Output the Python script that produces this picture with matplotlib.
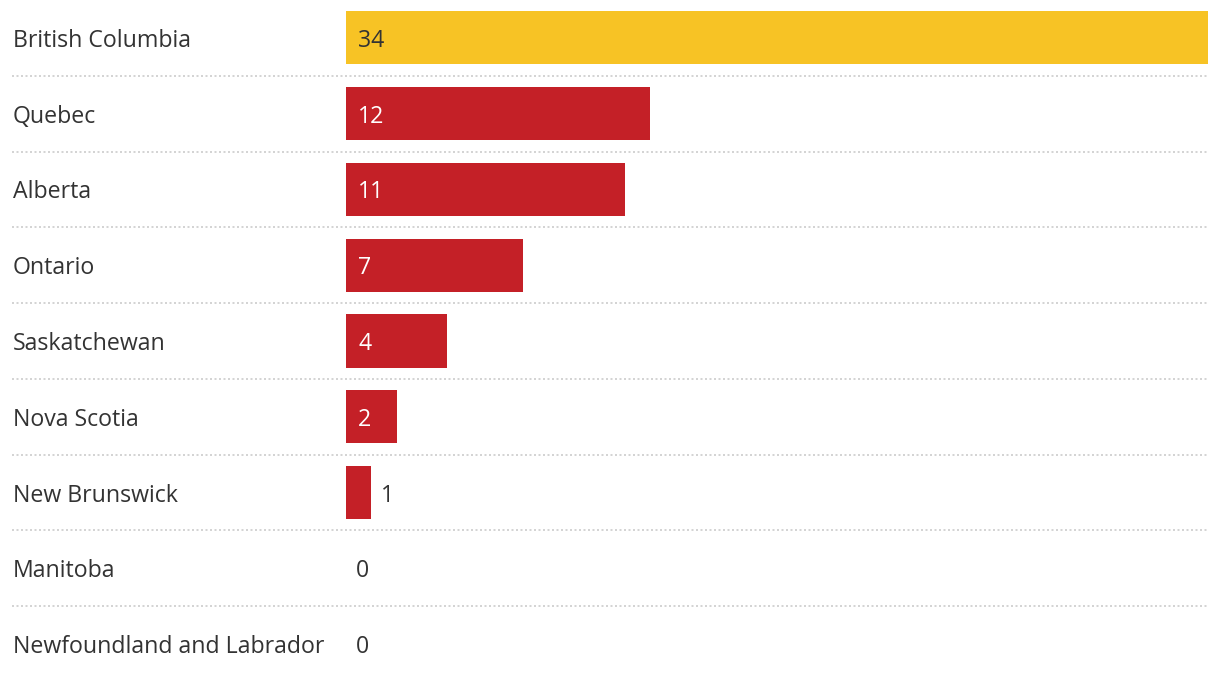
import numpy as np
import matplotlib.pyplot as plt
from matplotlib.transforms import blended_transform_factory, offset_copy

provinces = ["British Columbia", "Quebec", "Alberta", "Ontario", "Saskatchewan",
             "Nova Scotia", "New Brunswick", "Manitoba", "Newfoundland and Labrador"]
counts = [34, 12, 11, 7, 4, 2, 1, 0, 0]
highlight = "British Columbia"

yellow, red, txt = "#F7C325", "#C42027", "#333333"
plt.rcParams['font.family'] = ['Open Sans', 'DejaVu Sans']
fs = 16.7

W, H = 1220, 682
fig = plt.figure(figsize=(W / 100, H / 100), dpi=100)
ax = fig.add_axes([346 / W, 0, 862 / W, 1])
ax.set_xlim(0, max(counts))
ax.set_ylim(len(provinces) - 0.5, -0.5)
ax.axis("off")

ypos = np.arange(len(provinces))
colors = [yellow if p == highlight else red for p in provinces]
ax.barh(ypos, counts, height=0.7, color=colors, zorder=2)

# labels on the left, in figure x coords, nudged down a little
lab_tr = offset_copy(blended_transform_factory(fig.transFigure, ax.transData),
                     fig=fig, y=-3, units="dots")
for y, p in zip(ypos, provinces):
    ax.text(13 / W, y, p, transform=lab_tr, ha="left", va="center",
            fontsize=fs, color=txt, clip_on=False)

# value labels
for y, v, p in zip(ypos, counts, provinces):
    if v >= 2:
        c = txt if p == highlight else "white"
        ax.annotate(str(v), (0, y), xytext=(12, -3), textcoords="offset pixels",
                    ha="left", va="center", fontsize=fs, color=c)
    else:
        ax.annotate(str(v), (v, y), xytext=(10 if v > 0 else 10, -3),
                    textcoords="offset pixels", ha="left", va="center",
                    fontsize=fs, color=txt)

# dotted separators
sep_tr = blended_transform_factory(fig.transFigure, ax.transData)
for y in ypos[:-1] + 0.5:
    ax.plot([12 / W, 1208 / W], [y, y], transform=sep_tr, color="#cccccc",
            linewidth=1.2, linestyle=(0, (1.2, 1.5)), clip_on=False, zorder=1)

fig.savefig("out.png", dpi=100, facecolor="white")
